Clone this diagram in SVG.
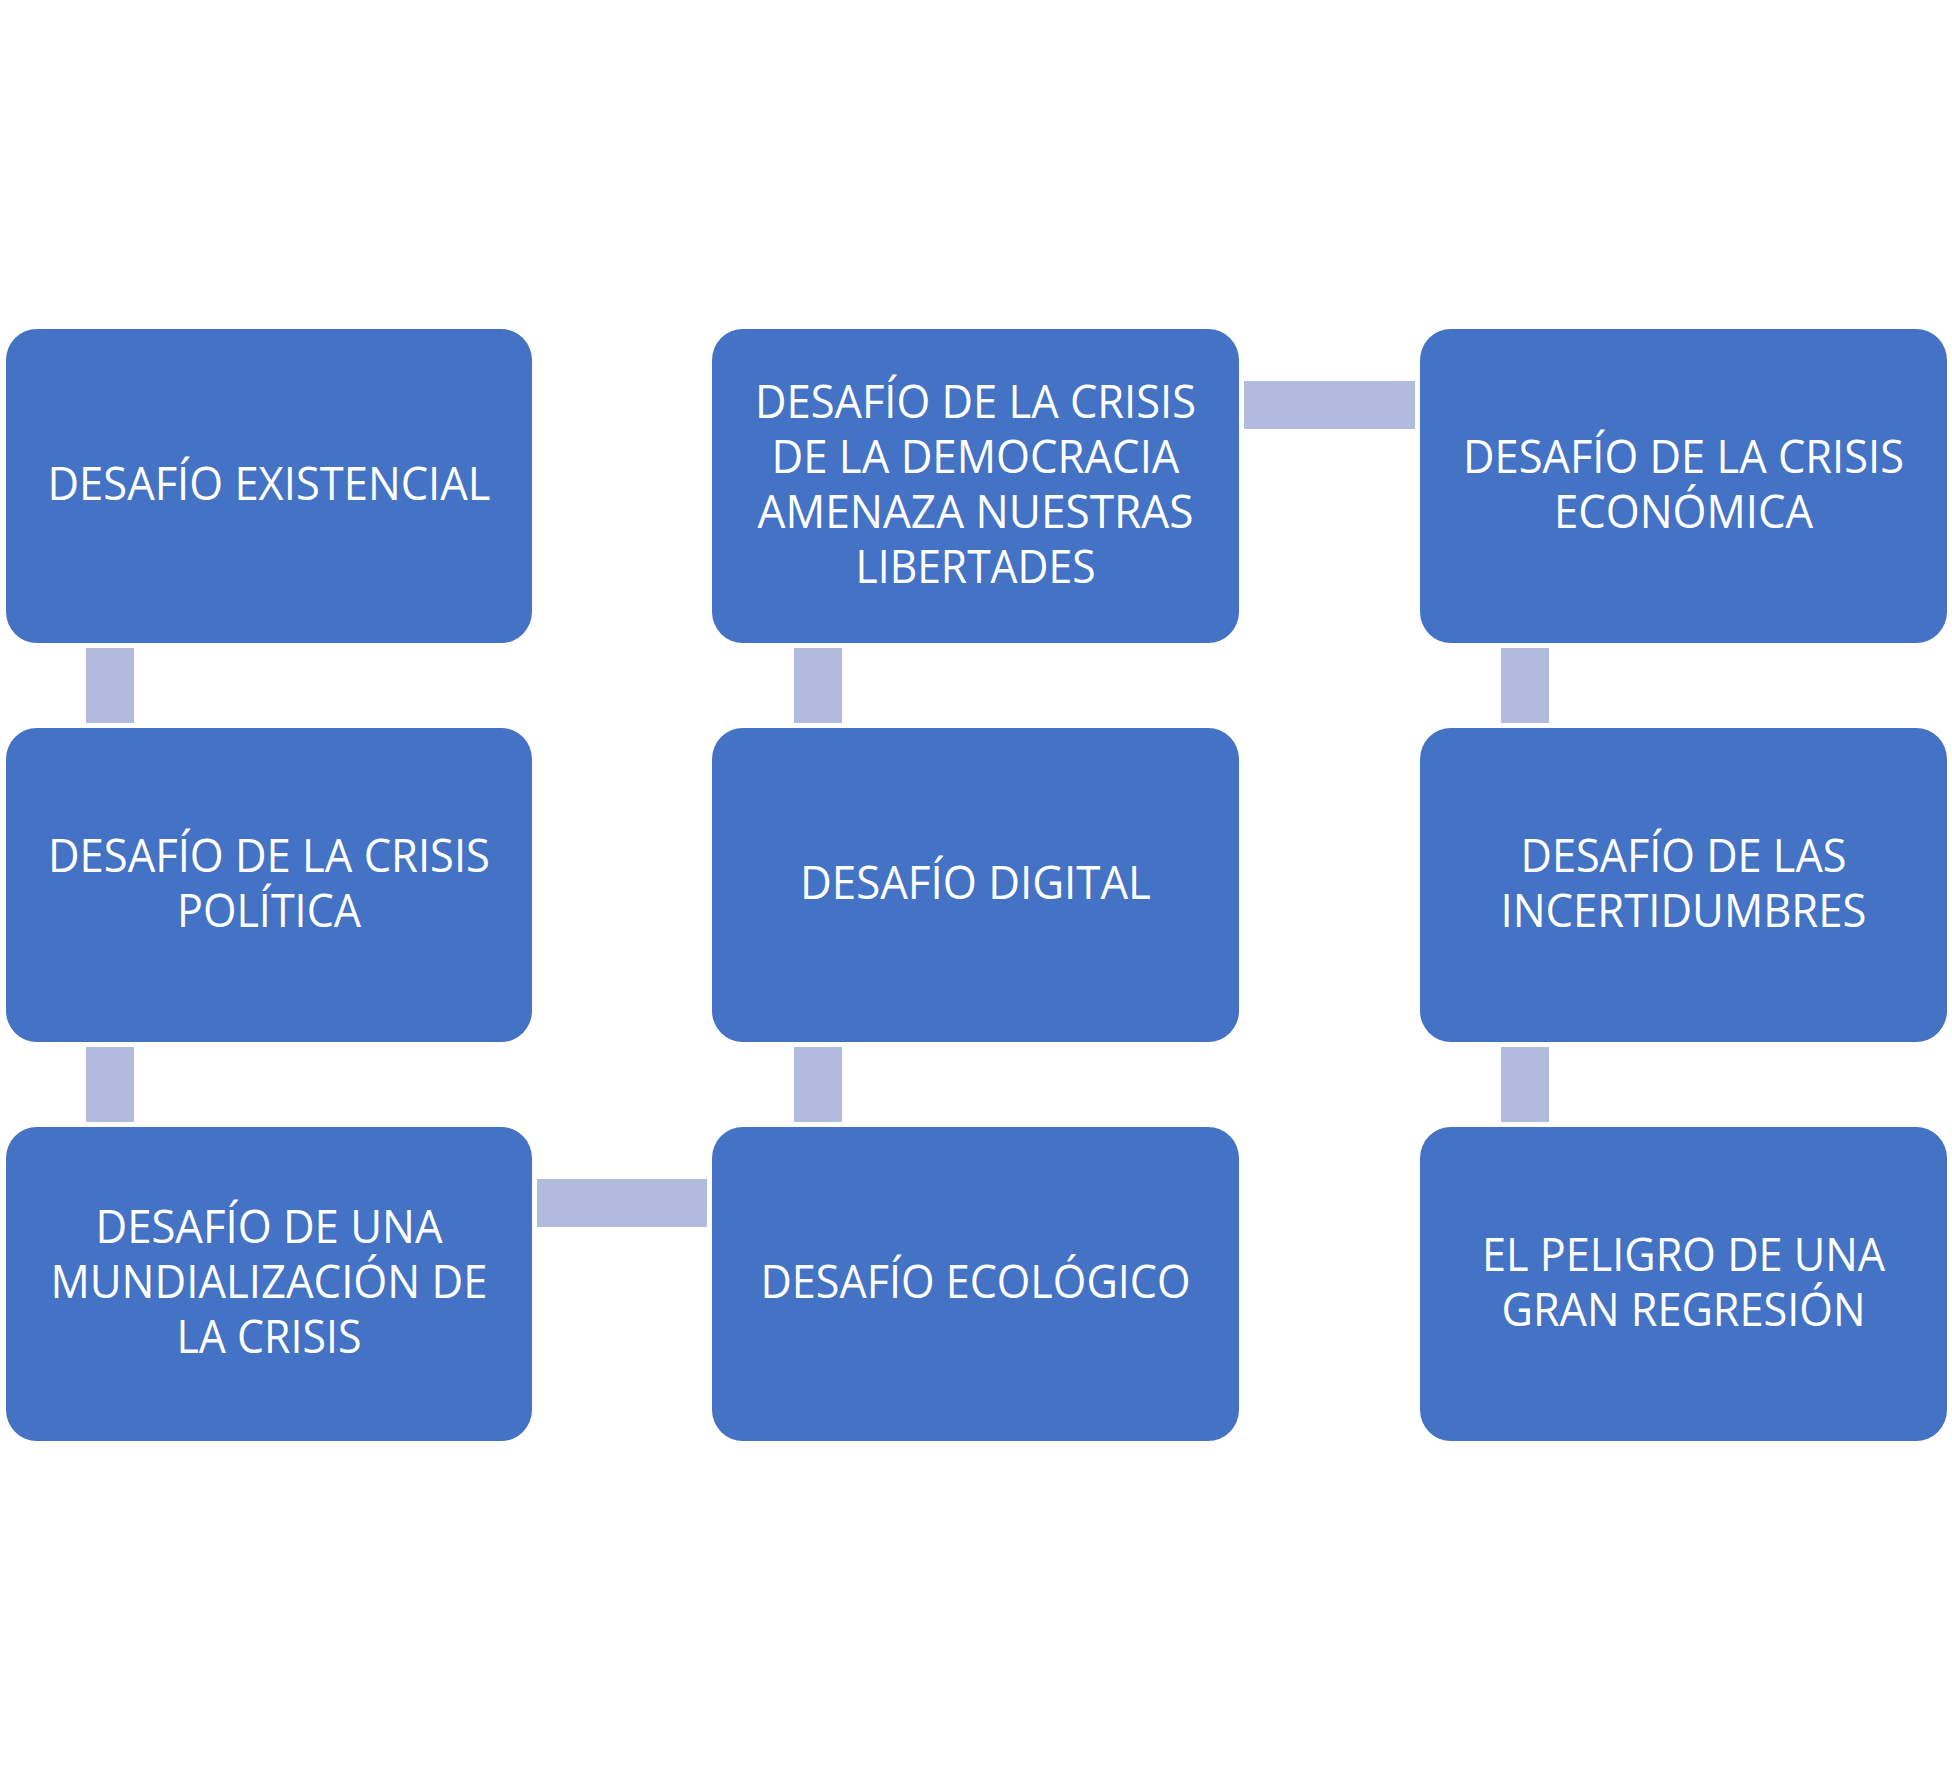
<svg xmlns="http://www.w3.org/2000/svg" width="1952" height="1769" viewBox="0 0 1952 1769">
<style>
.box{fill:#4472C4;}
.con{fill:#B0BBDD;}
.t{fill:#FFFFFF;font-family:"Open Sans","Liberation Sans",sans-serif;font-size:45px;text-anchor:middle;}
</style>
<rect width="1952" height="1769" fill="#FFFFFF"/>
<g id="connectors">
<rect class="con" x="86" y="648" width="48" height="75"/>
<rect class="con" x="86" y="1047" width="48" height="75"/>
<rect class="con" x="794" y="648" width="48" height="75"/>
<rect class="con" x="794" y="1047" width="48" height="75"/>
<rect class="con" x="1501" y="648" width="48" height="75"/>
<rect class="con" x="1501" y="1047" width="48" height="75"/>
<rect class="con" x="1244" y="381" width="171" height="48"/>
<rect class="con" x="537" y="1179" width="170" height="48"/>
</g>
<g id="n1">
<rect class="box" x="6" y="329" width="526" height="314" rx="31"/>
<text class="t" x="269" y="500" textLength="443" lengthAdjust="spacingAndGlyphs">DESAFÍO EXISTENCIAL</text>
</g>
<g id="n2">
<rect class="box" x="6" y="728" width="526" height="314" rx="31"/>
<text class="t" x="269" y="871.5" textLength="442" lengthAdjust="spacingAndGlyphs">DESAFÍO DE LA CRISIS</text>
<text class="t" x="269" y="926.5" textLength="184" lengthAdjust="spacingAndGlyphs">POLÍTICA</text>
</g>
<g id="n3">
<rect class="box" x="6" y="1127" width="526" height="314" rx="31"/>
<text class="t" x="269" y="1243" textLength="347" lengthAdjust="spacingAndGlyphs">DESAFÍO DE UNA</text>
<text class="t" x="269" y="1298" textLength="437" lengthAdjust="spacingAndGlyphs">MUNDIALIZACIÓN DE</text>
<text class="t" x="269" y="1353" textLength="185" lengthAdjust="spacingAndGlyphs">LA CRISIS</text>
</g>
<g id="n4">
<rect class="box" x="712" y="1127" width="527" height="314" rx="31"/>
<text class="t" x="975.5" y="1298" textLength="430" lengthAdjust="spacingAndGlyphs">DESAFÍO ECOLÓGICO</text>
</g>
<g id="n5">
<rect class="box" x="712" y="728" width="527" height="314" rx="31"/>
<text class="t" x="975.5" y="899" textLength="351" lengthAdjust="spacingAndGlyphs">DESAFÍO DIGITAL</text>
</g>
<g id="n6">
<rect class="box" x="712" y="329" width="527" height="314" rx="31"/>
<text class="t" x="975.5" y="417.5" textLength="441" lengthAdjust="spacingAndGlyphs">DESAFÍO DE LA CRISIS</text>
<text class="t" x="975.5" y="472.5" textLength="408" lengthAdjust="spacingAndGlyphs">DE LA DEMOCRACIA</text>
<text class="t" x="975.5" y="527.5" textLength="436" lengthAdjust="spacingAndGlyphs">AMENAZA NUESTRAS</text>
<text class="t" x="975.5" y="582.5" textLength="240" lengthAdjust="spacingAndGlyphs">LIBERTADES</text>
</g>
<g id="n7">
<rect class="box" x="1420" y="329" width="527" height="314" rx="31"/>
<text class="t" x="1683.5" y="472.5" textLength="441" lengthAdjust="spacingAndGlyphs">DESAFÍO DE LA CRISIS</text>
<text class="t" x="1683.5" y="527.5" textLength="259" lengthAdjust="spacingAndGlyphs">ECONÓMICA</text>
</g>
<g id="n8">
<rect class="box" x="1420" y="728" width="527" height="314" rx="31"/>
<text class="t" x="1683.5" y="871.5" textLength="326" lengthAdjust="spacingAndGlyphs">DESAFÍO DE LAS</text>
<text class="t" x="1683.5" y="926.5" textLength="366" lengthAdjust="spacingAndGlyphs">INCERTIDUMBRES</text>
</g>
<g id="n9">
<rect class="box" x="1420" y="1127" width="527" height="314" rx="31"/>
<text class="t" x="1683.5" y="1270.5" textLength="403" lengthAdjust="spacingAndGlyphs">EL PELIGRO DE UNA</text>
<text class="t" x="1683.5" y="1325.5" textLength="364" lengthAdjust="spacingAndGlyphs">GRAN REGRESIÓN</text>
</g>
</svg>
